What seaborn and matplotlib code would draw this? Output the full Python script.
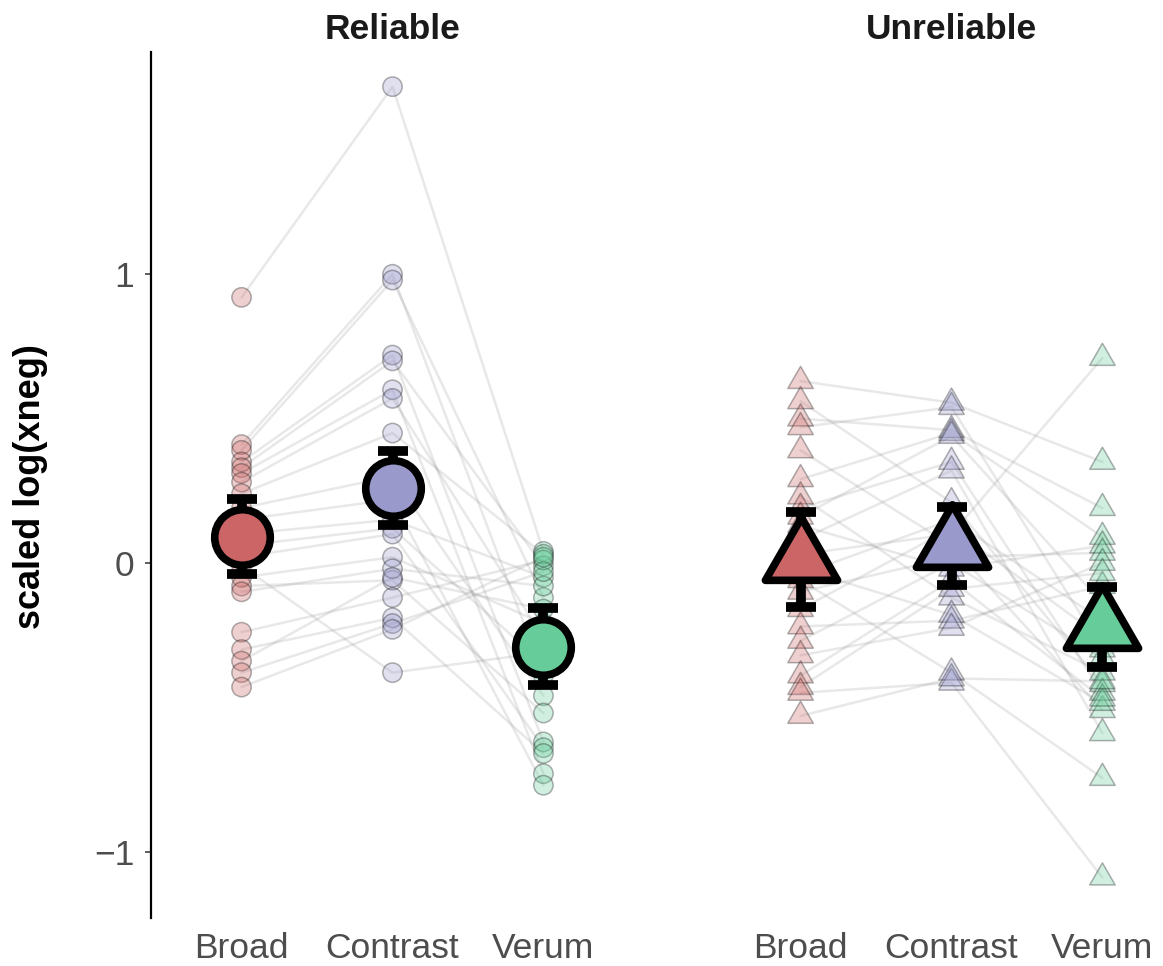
import numpy as np
import pandas as pd
import matplotlib
matplotlib.use("Agg")
import matplotlib.pyplot as plt
from matplotlib.markers import MarkerStyle
from matplotlib.path import Path
import seaborn as sns

conditions = ["Broad", "Contrast", "Verum"]
panels = ["Reliable", "Unreliable"]
palette = {"Broad": "#CC6666", "Contrast": "#9999CC", "Verum": "#66CC99"}

# Per-participant scores; position in each list identifies the participant
reliable_broad = [0.92, 0.41, 0.39, 0.35, 0.33, 0.31, 0.28, 0.24, 0.19, 0.15, 0.10,
                  0.06, -0.01, 0.02, -0.05, -0.08, -0.10, -0.24, -0.30, -0.34, -0.38, -0.43]
reliable_contrast = [1.65, 1.00, 0.98, 0.72, 0.70, 0.60, 0.57, 0.45, 0.30, 0.22, 0.15,
                     0.12, -0.38, 0.10, 0.02, -0.06, -0.02, -0.12, -0.19, -0.05, -0.21, -0.23]
reliable_verum = [0.04, -0.39, -0.12, -0.62, -0.01, -0.73, -0.26, 0.03, -0.46, -0.77, -0.05,
                  -0.35, -0.31, -0.64, -0.21, -0.52, -0.08, 0.01, -0.66, -0.16, -0.03, 0.02]

unreliable_broad = [0.63, 0.56, 0.50, 0.47, 0.39, 0.29, 0.23, 0.19, 0.16, 0.13, 0.08, 0.03,
                    -0.02, -0.04, -0.06, -0.10, -0.16, -0.22, -0.27, -0.32, -0.39, -0.43, -0.45, -0.53]
unreliable_contrast = [0.555, 0.21, 0.46, 0.54, 0.06, 0.45, -0.12, 0.35, 0.44, -0.02, 0.32, 0.10,
                       -0.18, 0.15, -0.38, 0.02, 0.12, -0.20, 0.0, -0.225, -0.06, -0.09, -0.415, -0.40]
unreliable_verum = [0.35, -0.42, 0.19, -0.30, -0.51, 0.09, -0.38, -0.45, -0.14, 0.06, -0.59, 0.71,
                    -0.485, -0.20, -0.745, 0.035, -0.26, -0.08, -0.33, 0.0, -0.47, -0.035, -1.09, -0.41]

# Condition means and standard errors
reliable_mean = [0.09, 0.26, -0.29]
reliable_se = [0.13, 0.127, 0.133]
unreliable_mean = [0.012, 0.059, -0.222]
unreliable_se = [0.165, 0.135, 0.139]

raw = {
    "Reliable": [reliable_broad, reliable_contrast, reliable_verum],
    "Unreliable": [unreliable_broad, unreliable_contrast, unreliable_verum],
}
summary = {
    "Reliable": (reliable_mean, reliable_se),
    "Unreliable": (unreliable_mean, unreliable_se),
}

rows = []
for panel in panels:
    for cond, values in zip(conditions, raw[panel]):
        for subj, v in enumerate(values):
            rows.append({"panel": panel, "subject": subj, "cond": cond, "value": v})
df = pd.DataFrame(rows)
cond_pos = {c: i for i, c in enumerate(conditions)}
df["xpos"] = df["cond"].map(cond_pos)

sns.set_style("white")
plt.rcParams["font.family"] = ["Liberation Sans", "DejaVu Sans"]

# Equilateral triangle with rounded joins
s3 = np.sqrt(3) / 2
tri_path = Path([(0, 1), (-s3, -0.5), (s3, -0.5), (0, 1)], closed=True)
tri_marker = MarkerStyle(tri_path, joinstyle="round")
circ_marker = MarkerStyle("o", joinstyle="round")
panel_markers = {"Reliable": (circ_marker, 195, 40),
                 "Unreliable": (tri_marker, 450, 60)}

W, H = 1163, 966
fig = plt.figure(figsize=(W / 100, H / 100), dpi=100)
ax_left = fig.add_axes([151 / W, 48 / H, 483 / W, 866 / H])
ax_right = fig.add_axes([710 / W, 48 / H, 483 / W, 866 / H])
axes = {"Reliable": ax_left, "Unreliable": ax_right}

for panel in panels:
    ax = axes[panel]
    sub = df[df["panel"] == panel]
    small_marker, small_s, big_ms = panel_markers[panel]

    sns.lineplot(data=sub, x="xpos", y="value", units="subject", estimator=None,
                 color="#808080", alpha=0.18, linewidth=1.8, ax=ax,
                 legend=False, zorder=1, sort=False)

    sns.scatterplot(data=sub, x="xpos", y="value", hue="cond", palette=palette,
                    marker=small_marker, s=small_s, alpha=0.3,
                    edgecolor="black", linewidth=1.1, ax=ax, legend=False, zorder=2)

    means, ses = summary[panel]
    for cond, m, se in zip(conditions, means, ses):
        x = cond_pos[cond]
        ax.errorbar([x], [m], yerr=[se], fmt="none", ecolor="black",
                    elinewidth=7, capsize=11, capthick=7, zorder=3)
        ax.plot([x], [m], linestyle="none", marker=small_marker,
                markersize=big_ms, markerfacecolor=palette[cond],
                markeredgecolor="black", markeredgewidth=5.5, zorder=4)

    ax.set_xlim(-0.6, 2.6)
    ax.set_ylim(-1.23, 1.77)
    ax.set_xticks(range(len(conditions)))
    ax.set_xticklabels(conditions)
    ax.set_xlabel("")
    ax.set_ylabel("")
    ax.set_title(panel, fontsize=25.5, fontweight="bold", color="#1A1A1A", pad=9.5)
    ax.tick_params(axis="x", length=0, pad=10, labelsize=25.5, labelcolor="#4D4D4D")
    for side in ["top", "right", "bottom"]:
        ax.spines[side].set_visible(False)

ax_left.spines["left"].set_color("black")
ax_left.spines["left"].set_linewidth(1.6)
ax_left.set_yticks([-1, 0, 1])
ax_left.set_yticklabels(["\u22121", "0", "1"])
ax_left.tick_params(axis="y", length=4, width=1.1, color="#333333", pad=8,
                    labelsize=25.5, labelcolor="#4D4D4D", left=True)
ax_right.spines["left"].set_visible(False)
ax_right.set_yticks([])

fig.text(31 / W, 1 - 487 / H, "scaled log(xneg)", rotation=90, ha="center", va="center",
         fontsize=26, fontweight="bold", color="black")

fig.savefig("out.png", dpi=100)
